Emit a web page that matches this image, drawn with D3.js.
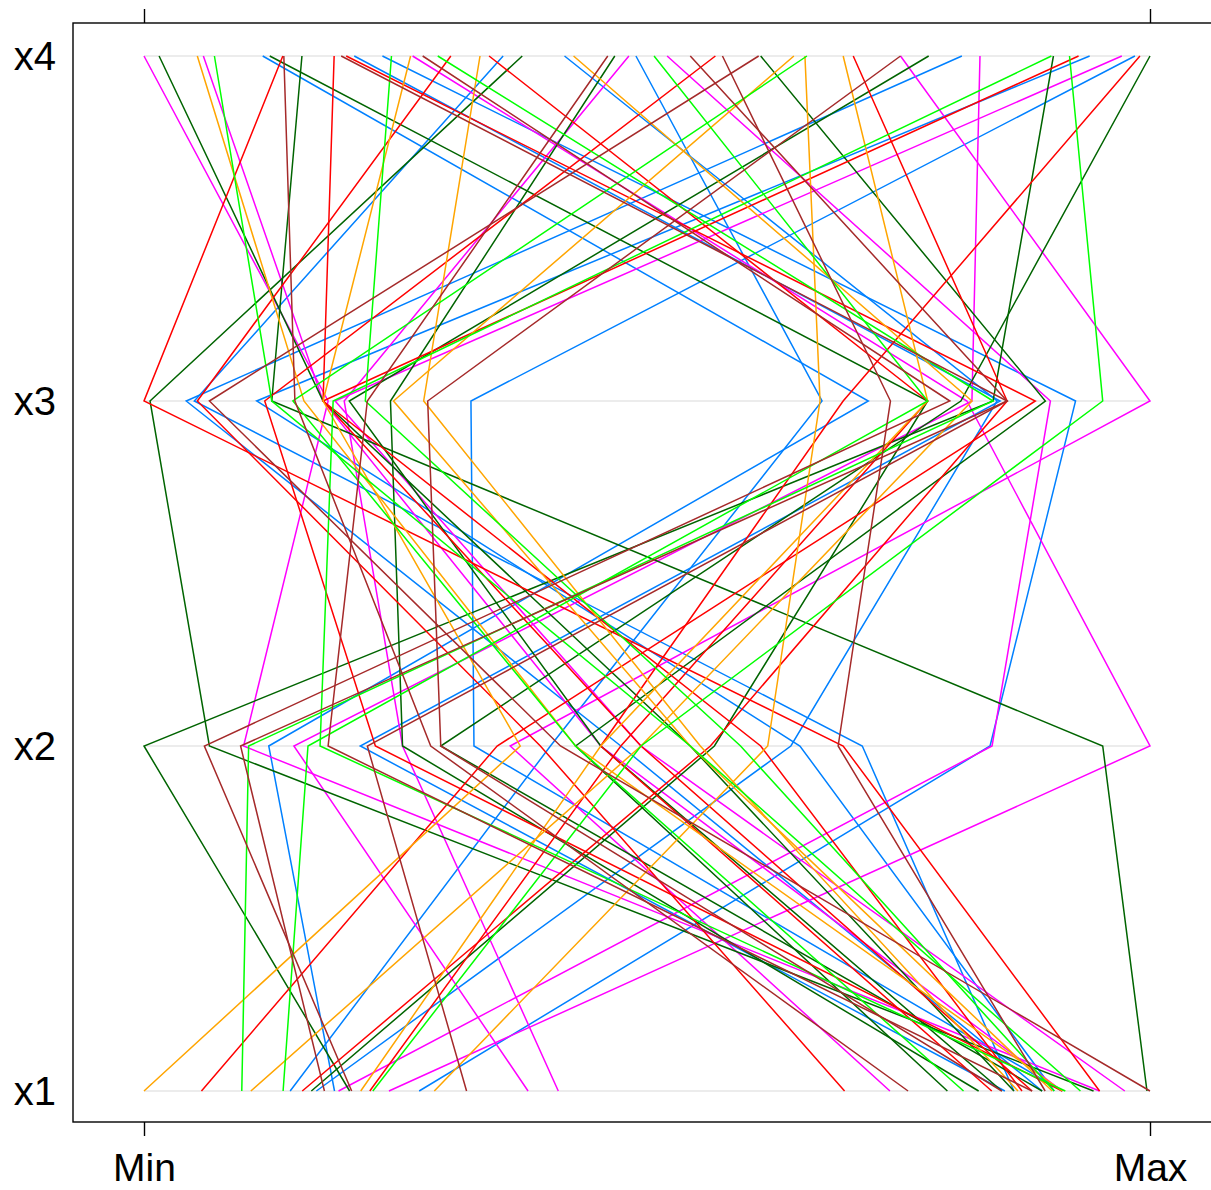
<!DOCTYPE html>
<html>
<head>
<meta charset="utf-8">
<script src="https://cdn.jsdelivr.net/npm/d3@7"></script>
<style>
  body { margin: 0; background: #fff; }
  text { font-family: "Liberation Sans", Arial, sans-serif; }
</style>
</head>
<body>
<svg id="chart"></svg>
<script>
// variables, bottom to top
const vars = ['x1', 'x2', 'x3', 'x4'];
const rangeLabels = ['Min', 'Max'];
const palette = ['#0080ff', '#ff00ff', '#006400', '#ff0000', '#ffa500', '#00ff00', '#a52a2a'];

const x1 = [18.9, 85.4, 27.3, 86.3, 17.1, 14.5, 89.1, 90.3, 91.1,
            94.8, 91.1, 24.3, 41.1, 19.3, 74.0, 38.1, 97.3,
            86.3, 16.6, 99.5, 94.2, 82.8, 79.7, 85.1, 20.4, 89.1,
            94.8, 88.1, 5.7, 69.5, 22.4, 91.1, 15.7, 87.1, 84.1,
            91.1, 0, 86.7, 10.6, 90.1, 28.8, 21.5,
            92.9, 90.3, 9.7, 13.8, 81.3, 91.4, 22.7,
            75.8, 32.0, 20.6, 88.1, 17.9, 89.4, 99.8, 85.1];
const x2 = [12.4, 21.5, 84.1, 71.4, 64.3, 40.4, 47.4, 65.2, 32.8,
            9.9, 45.4, 100, 25.7, 84.3, 36.4, 14.9, 49.4,
            54.3, 56.7, 95.3, 6.5, 25.7, 42.9, 45.4, 0, 29.5,
            69.5, 49.4, 35.1, 39.4, 47.4, 23.0, 56.3, 61.3, 45.4,
            42.9, 37.4, 55.3, 49.4, 54.3, 62.0, 45.4,
            54.3, 59.3, 10.4, 16.3, 42.9, 17.5, 49.4,
            28.5, 22.2, 6.0, 18.3, 9.6, 69.0, 41.4, 29.5];
const x3 = [72.0, 85.1, 92.6, 5.0, 84.8, 67.4, 4.2, 11.2, 32.5,
            18.3, 17.8, 81.8, 19.9, 90.1, 100, 82.3, 19.0,
            17.8, 77.9, 12.7, 0.6, 24.5, 89.6, 20.4, 84.4, 81.2,
            0, 17.8, 88.6, 5.3, 77.9, 12.0, 85.8, 17.8, 69.5,
            15.9, 17.8, 27.8, 82.3, 24.8, 67.2, 77.9,
            12.7, 22.0, 84.4, 77.9, 14.8, 18.8, 95.3,
            15.0, 85.8, 80.1, 22.2, 85.8, 74.2, 6.5, 28.2];
const x4 = [11.8, 20.9, 23.7, 35.7, 41.8, 48.9, 81.3, 94.0, 98.5,
            0, 5.9, 26.7, 48.2, 52.0, 75.2, 83.1, 97.2,
            1.5, 12.5, 15.7, 37.6, 46.8, 61.3, 78.0, 90.4, 100,
            13.8, 18.9, 20.1, 30.5, 34.3, 56.8, 70.5, 92.9, 99.0,
            5.3, 26.5, 33.4, 42.7, 64.6, 65.7, 69.5,
            7.0, 24.6, 29.2, 50.7, 65.9, 90.2, 92.0,
            13.9, 19.6, 27.7, 46.1, 54.3, 57.5, 61.1, 75.2];
// colour group of each observation
const group = [0, 0, 0, 0, 0, 0, 0, 0, 0,
               1, 1, 1, 1, 1, 1, 1, 1,
               2, 2, 2, 2, 2, 2, 2, 2, 2,
               3, 3, 3, 3, 3, 3, 3, 3, 3,
               4, 4, 4, 4, 4, 4, 4,
               5, 5, 5, 5, 5, 5, 5,
               6, 6, 6, 6, 6, 6, 6, 6];

const columns = { x1: x1, x2: x2, x3: x3, x4: x4 };
const rows = d3.range(x1.length).map(i => ({
  g: group[i],
  v: vars.map(k => columns[k][i])
}));

const W = 1211, H = 1190;
const panel = { left: 73, right: 1221, top: 23, bottom: 1122 };

const svg = d3.select('#chart')
    .attr('width', W)
    .attr('height', H);

// every variable scaled to its own min..max
const xs = vars.map(k => d3.scaleLinear()
    .domain(d3.extent(columns[k]))
    .range([144, 1150]));

const y = d3.scalePoint()
    .domain(vars)
    .range([1091, 56]);

// reference lines
svg.append('g')
  .selectAll('line')
  .data(vars)
  .enter().append('line')
    .attr('x1', 144)
    .attr('x2', 1150)
    .attr('y1', d => y(d))
    .attr('y2', d => y(d))
    .attr('stroke', '#e6e6e6')
    .attr('stroke-width', 1.5);

const line = d3.line()
    .x((d, i) => xs[i](d))
    .y((d, i) => y(vars[i]));

svg.append('g')
  .selectAll('path')
  .data(rows)
  .enter().append('path')
    .attr('fill', 'none')
    .attr('stroke', d => palette[d.g])
    .attr('stroke-width', 1.5)
    .attr('stroke-linejoin', 'miter')
    .attr('d', d => line(d.v));

// panel box
svg.append('rect')
    .attr('x', panel.left)
    .attr('y', panel.top)
    .attr('width', panel.right - panel.left)
    .attr('height', panel.bottom - panel.top)
    .attr('fill', 'none')
    .attr('stroke', '#000')
    .attr('stroke-width', 1.4);

// Min / Max axis
const xAxis = d3.scalePoint().domain(rangeLabels).range([144, 1150]);

svg.append('g')
    .attr('transform', `translate(0,${panel.bottom})`)
    .call(d3.axisBottom(xAxis).tickSize(14).tickPadding(17))
    .call(g => g.select('.domain').remove())
    .call(g => g.selectAll('line').attr('stroke-width', 1.4))
    .call(g => g.selectAll('text')
        .attr('font-size', 39)
        .attr('fill', '#000')
        .style('font-family', '"Liberation Sans", Arial, sans-serif'));

svg.append('g')
    .attr('transform', `translate(0,${panel.top})`)
    .call(d3.axisTop(xAxis).tickSize(14).tickFormat(''))
    .call(g => g.select('.domain').remove())
    .call(g => g.selectAll('line').attr('stroke-width', 1.4));

// variable names
svg.append('g')
  .selectAll('text')
  .data(vars)
  .enter().append('text')
    .attr('x', 56)
    .attr('y', d => y(d))
    .attr('dy', '0.35em')
    .attr('text-anchor', 'end')
    .attr('font-size', 40)
    .text(d => d);
</script>
</body>
</html>
